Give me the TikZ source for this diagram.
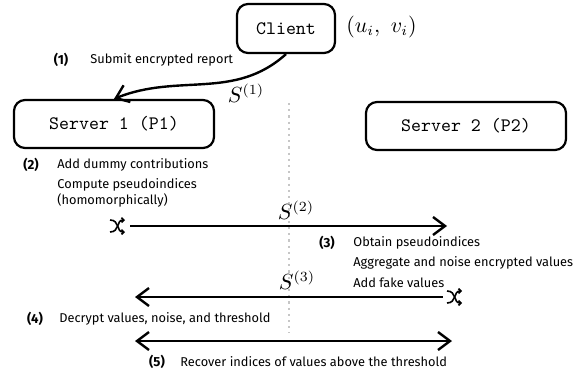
\documentclass[tikz,border=0pt]{standalone}
\usepackage{fontspec}
\setsansfont{Fira Sans}
\usetikzlibrary{arrows.meta}
\tikzset{
  shuffle/.pic={
    \draw[line width=0.8pt, -{Straight Barb[length=1.2pt,width=2.4pt]}] (-8,-6) .. controls (2,-6) and (-2,6) .. (7,6);
    \draw[line width=0.8pt, -{Straight Barb[length=1.2pt,width=2.4pt]}] (-8,6) .. controls (2,6) and (-2,-6) .. (7,-6);
  }
}
\begin{document}
\begin{tikzpicture}[x=0.5pt,y=-0.5pt,
  box/.style={draw, line width=1.1pt, rounded corners=5.5pt, minimum width=100pt, minimum height=24pt, font=\fontsize{9.5}{11}\selectfont\ttfamily, inner sep=0pt},
  lbl/.style={font=\fontsize{6.4}{7.5}\selectfont\sffamily, anchor=west, inner sep=0pt},
  num/.style={font=\fontsize{6.6}{7.5}\selectfont\sffamily\bfseries, inner sep=0pt},
  mth/.style={font=\fontsize{10.5}{12}\selectfont, inner sep=0pt},
  tip/.tip={Straight Barb[length=6pt,width=9pt]},
  arr/.style={line width=1.2pt, -tip},
  shufnode/.style={minimum width=12pt, minimum height=6pt, inner sep=0pt},
  sep/.style={dotted, gray!45, line width=1.1pt}
]
\useasboundingbox (0,0) rectangle (583,375);

% boxes
\node[box, minimum width=49pt, minimum height=24.5pt] (client) at (286,28.5) {Client};
\node[mth, anchor=west] (uv) at (346,27) {$(u_i,\ v_i)$};
\node[box] (s1) at (114,124) {Server 1 (P1)};
\node[box] (s2) at (466,126) {Server 2 (P2)};

% separator
\coordinate (dtop) at (289,103);
\coordinate (dbot) at (289,333);
\draw[sep] (dtop) -- (dbot);

% step 1
\node[num] (n1) at (61,60) {(1)};
\node[lbl] (t1) at (90,60) {Submit encrypted report};
\draw[arr] (client.south) to[out=222,in=22] (s1.north);
\node[mth] (S1) at (246,93) {$S^{(1)}$};

% step 2
\node[num] (n2) at (31,165) {(2)};
\node[lbl] (t2a) at (57,165) {Add dummy contributions};
\node[lbl] (t2b) at (57,185) {Compute pseudoindices};
\node[lbl] (t2c) at (57,200) {(homomorphically)};
\node[mth] (S2) at (296,210) {$S^{(2)}$};
\node[shufnode] (sh1) at (118,226) {};
\pic at (sh1) {shuffle};
\coordinate (e2) at (447,226);
\draw[arr] (sh1.east) -- (e2);

% step 3
\node[num] (n3) at (327,243) {(3)};
\node[lbl] (t3a) at (353,243) {Obtain pseudoindices};
\node[lbl] (t3b) at (353,263) {Aggregate and noise encrypted values};
\node[lbl] (t3c) at (353,283) {Add fake values};
\node[mth] (S3) at (297,280) {$S^{(3)}$};
\node[shufnode] (sh2) at (455,297) {};
\pic at (sh2) {shuffle};
\coordinate (e3) at (135,297);
\draw[arr] (sh2.west) -- (e3);

% step 4
\node[num] (n4) at (35,319) {(4)};
\node[lbl] (t4) at (59,319) {Decrypt values, noise, and threshold};

% step 5
\coordinate (l5) at (135,341);
\coordinate (r5) at (452,341);
\draw[line width=1.2pt, tip-tip] (l5) -- (r5);
\node[num] (n5) at (157,362) {(5)};
\node[lbl] (t5) at (180,362) {Recover indices of values above the threshold};
\end{tikzpicture}
\end{document}
